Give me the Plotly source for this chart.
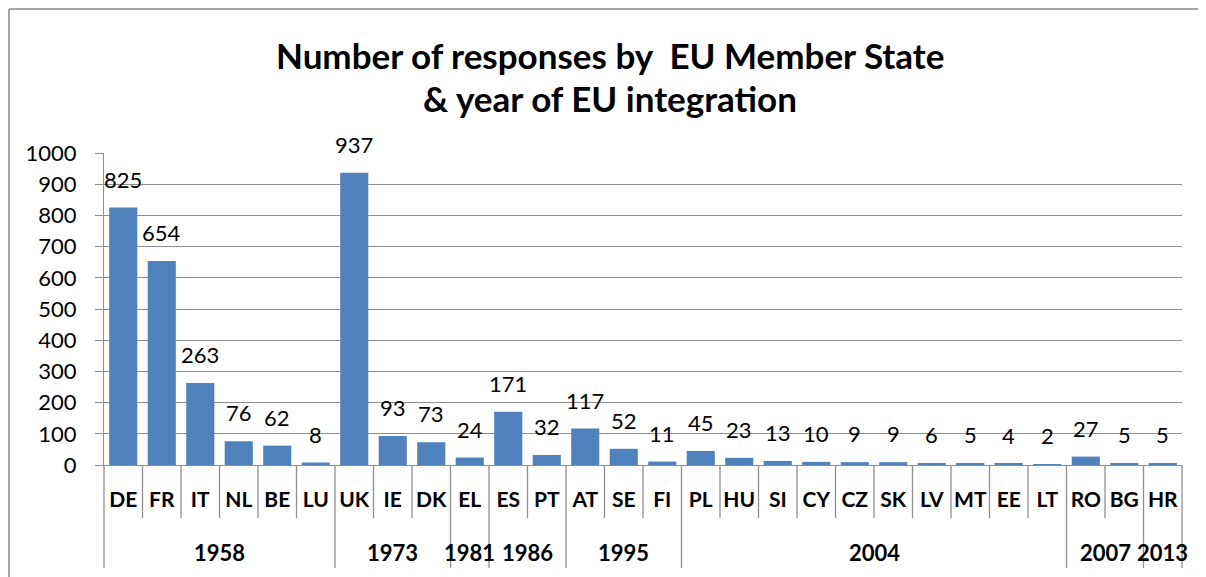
import plotly.graph_objects as go

countries = ["DE", "FR", "IT", "NL", "BE", "LU", "UK", "IE", "DK", "EL", "ES", "PT", "AT", "SE", "FI",
             "PL", "HU", "SI", "CY", "CZ", "SK", "LV", "MT", "EE", "LT", "RO", "BG", "HR"]
responses = [825, 654, 263, 76, 62, 8, 937, 93, 73, 24, 171, 32, 117, 52, 11,
             45, 23, 13, 10, 9, 9, 6, 5, 4, 2, 27, 5, 5]
years = ["1958", "1973", "1981", "1986", "1995", "2004", "2007", "2013"]
group_sizes = [6, 3, 1, 2, 3, 10, 2, 1]

OFF = 8  # browser body margin
W, H = 1206 - OFF, 577 - OFF
ML, MR, MT, MB = 104 - OFF, 24, 153 - OFF, 112
PW = W - ML - MR
PH = H - MT - MB

def px_x(px):
    # page pixel -> paper x
    return (px - OFF - ML) / PW

def px_y(py):
    # page pixel -> paper y
    return (H - MB - (py - OFF)) / PH

FONT = "Lato"
BAR = "#4F81BD"
GRID = "#8E8E8E"

fig = go.Figure()
fig.add_trace(go.Bar(x=list(range(len(countries))), y=responses, marker=dict(color=BAR, line=dict(width=0)),
                     hoverinfo="x+y"))

annotations = []
for i, v in enumerate(responses):
    annotations.append(dict(x=i, y=v, xref="x", yref="y", text=str(v), showarrow=False,
                            yanchor="bottom", yshift=13, font=dict(family=FONT, size=22, color="#000")))

shapes = []
start = 0
boundaries = set()
for yr, n in zip(years, group_sizes):
    center = start + (n - 1) / 2
    annotations.append(dict(x=center, y=px_y(552), xref="x", yref="paper", text="<b>%s</b>" % yr,
                            showarrow=False, yanchor="middle", xanchor="center",
                            font=dict(family=FONT, size=22, color="#000")))
    start += n
    boundaries.add(start)

# title as two centred lines
annotations.append(dict(x=px_x(610), y=px_y(55), xref="paper", yref="paper",
                        text="<b>Number of responses by  EU Member State</b>", showarrow=False,
                        xanchor="center", yanchor="middle", font=dict(family=FONT, size=35, color="#000")))
annotations.append(dict(x=px_x(610), y=px_y(98), xref="paper", yref="paper",
                        text="<b>& year of EU integration</b>", showarrow=False,
                        xanchor="center", yanchor="middle", font=dict(family=FONT, size=35, color="#000")))

for i in range(1, len(countries)):
    long = i in boundaries
    shapes.append(dict(type="line", xref="x", yref="paper", x0=i - 0.5, x1=i - 0.5,
                       y0=0, y1=px_y(568 if long else 518), line=dict(color=GRID, width=1.3)))
for xe in (0, 1):
    shapes.append(dict(type="line", xref="paper", yref="paper", x0=xe, x1=xe,
                       y0=0, y1=px_y(568), line=dict(color=GRID, width=1.3)))

# outer chart border
shapes.append(dict(type="line", xref="paper", yref="paper", x0=px_x(9), x1=px_x(1206),
                   y0=px_y(9), y1=px_y(9), line=dict(color="#A6A6A6", width=2)))
shapes.append(dict(type="line", xref="paper", yref="paper", x0=px_x(9), x1=px_x(9),
                   y0=px_y(9), y1=px_y(577), line=dict(color="#A6A6A6", width=2)))

fig.update_layout(
    width=W, height=H,
    margin=dict(l=ML, r=MR, t=MT, b=MB),
    plot_bgcolor="white", paper_bgcolor="white",
    bargap=0.27,
    showlegend=False,
    font=dict(family=FONT, color="#000"),
    xaxis=dict(type="linear", range=[-0.5, len(countries) - 0.5],
               tickmode="array", tickvals=list(range(len(countries))),
               ticktext=["<b>%s</b>" % c for c in countries],
               tickfont=dict(family=FONT, size=21, color="#000"),
               ticks="", showline=True, linecolor=GRID, linewidth=1.3,
               showgrid=False, zeroline=False, ticklabelstandoff=16, fixedrange=True),
    yaxis=dict(range=[0, 1000], dtick=100, tick0=0,
               showgrid=True, gridcolor=GRID, gridwidth=1.3,
               showline=True, linecolor=GRID, linewidth=1.3,
               ticks="outside", ticklen=8, tickcolor=GRID, tickwidth=1.3,
               tickfont=dict(family=FONT, size=22, color="#000"),
               ticklabelstandoff=14, zeroline=False, fixedrange=True),
    annotations=annotations,
    shapes=shapes,
)

fig.write_html("out.html")
